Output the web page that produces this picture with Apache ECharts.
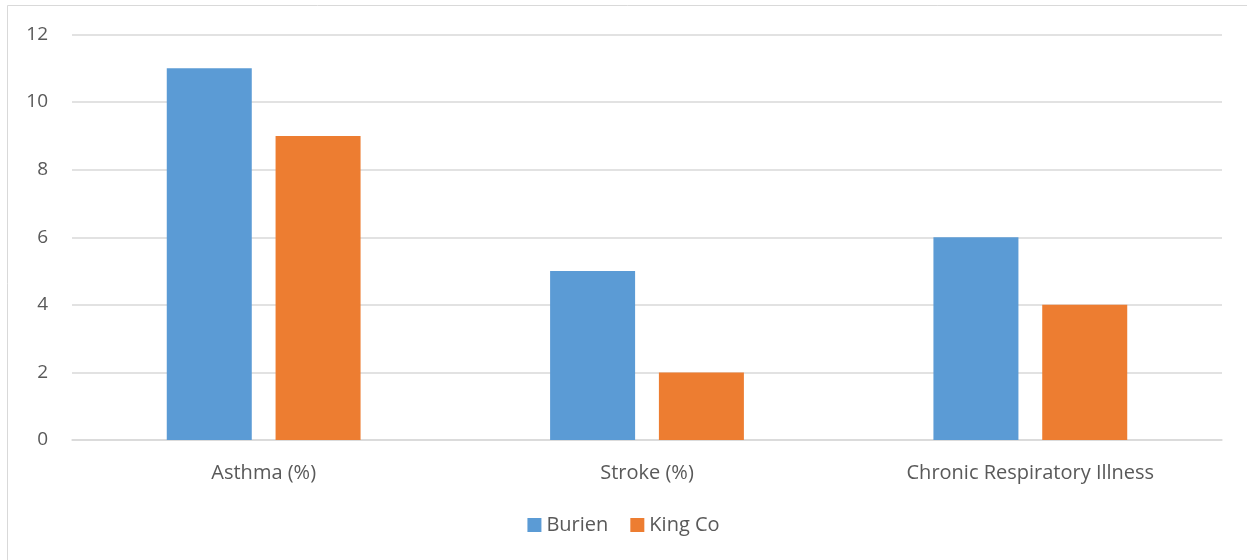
<!DOCTYPE html>
<html>
<head>
<meta charset="utf-8">
<script src="https://cdn.jsdelivr.net/npm/echarts@6/dist/echarts.min.js"></script>
<style>
  html, body { margin: 0; padding: 0; background: #fff; }
  #chart { width: 1247px; height: 560px; }
</style>
</head>
<body>
<div id="chart"></div>
<script>
// Health indicators: Burien vs King County
const categories = ['Asthma (%)', 'Stroke (%)', 'Chronic Respiratory Illness'];
const burien = [11, 5, 6];
const kingCo = [9, 2, 4];
const yTicks = [0, 2, 4, 6, 8, 10, 12];

const textColor = '#595959';
const fontFamily = '"Open Sans", "Noto Sans", sans-serif';

const chart = echarts.init(document.getElementById('chart'), null, { renderer: 'canvas' });
chart.setOption({
  animation: false,
  backgroundColor: '#fff',
  graphic: [{
    type: 'rect',
    shape: { x: 7.5, y: 5.5, width: 1260, height: 580 },
    style: { fill: 'none', stroke: '#d9d9d9', lineWidth: 1 },
    silent: true,
    z: -1
  }],
  grid: { left: 72, right: 25, top: 34.5, bottom: 120, containLabel: false },
  legend: {
    bottom: 20,
    left: 'center',
    itemWidth: 14,
    itemHeight: 14,
    itemGap: 22,
    icon: 'rect',
    textStyle: { color: textColor, fontSize: 20, fontFamily: fontFamily },
    data: ['Burien', 'King Co']
  },
  xAxis: {
    type: 'category',
    data: categories,
    axisLine: { show: true, lineStyle: { color: '#d9d9d9', width: 1.5 } },
    axisTick: { show: false },
    axisLabel: { color: textColor, fontSize: 20, fontFamily: fontFamily, margin: 23 }
  },
  yAxis: {
    type: 'value',
    min: yTicks[0],
    max: yTicks[yTicks.length - 1],
    interval: 2,
    axisLine: { show: false },
    axisTick: { show: false },
    splitLine: { lineStyle: { color: '#d9d9d9', width: 1.5 } },
    axisLabel: { color: textColor, fontSize: 19, fontFamily: fontFamily, margin: 24 }
  },
  series: [
    {
      name: 'Burien',
      type: 'bar',
      data: burien,
      barWidth: 85,
      barGap: '28%',
      itemStyle: { color: '#5b9bd5' }
    },
    {
      name: 'King Co',
      type: 'bar',
      data: kingCo,
      barWidth: 85,
      itemStyle: { color: '#ed7d31' }
    }
  ]
});
</script>
</body>
</html>
